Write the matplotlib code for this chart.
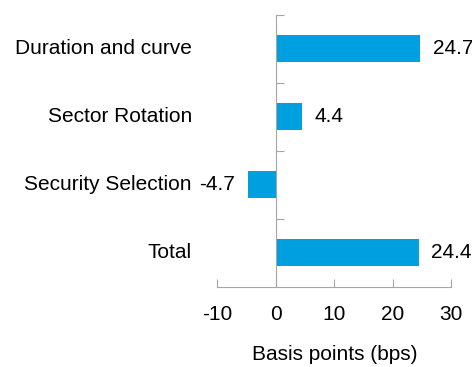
import matplotlib.pyplot as plt
import matplotlib.transforms as mtransforms

plt.rcParams['font.family'] = ['Liberation Sans', 'DejaVu Sans']

categories = ['Duration and curve', 'Sector Rotation', 'Security Selection', 'Total']
values = [24.7, 4.4, -4.7, 24.4]
xticks = [-10, 0, 10, 20, 30]

bar_color = '#00A0E0'
axis_color = '#A6A6A6'
fs = 15

fig = plt.figure(figsize=(4.72, 3.67), dpi=100)
ax = fig.add_axes([0.4608, 0.2188, 0.4953, 0.7411])

n = len(categories)
ypos = [n - 1 - i for i in range(n)]          # first category on top
ax.barh(ypos, values, height=0.4, color=bar_color)

ax.set_xlim(-10, 30)
ax.set_ylim(-0.5, n - 0.5)
ax.set_xticks(xticks)
ax.set_xticklabels([str(t) for t in xticks], fontsize=fs)
ax.set_yticks([k + 0.5 for k in range(n)])
ax.set_yticklabels([])

for s in ['top', 'right']:
    ax.spines[s].set_visible(False)
ax.spines['left'].set_position(('data', 0))
ax.spines['left'].set_color(axis_color)
ax.spines['bottom'].set_color(axis_color)
ax.tick_params(axis='x', direction='in', length=6, color=axis_color, pad=13)
ax.tick_params(axis='y', direction='in', length=6, color=axis_color)

# category labels sit left of the plot area
trans = mtransforms.blended_transform_factory(ax.transAxes, ax.transData)
for y, name in zip(ypos, categories):
    ax.text(-0.11, y, name, transform=trans, ha='right', va='center', fontsize=fs)

# value labels
for y, v in zip(ypos, values):
    if v >= 0:
        ax.annotate(f'{v:.1f}', (v, y), xytext=(9, 0), textcoords='offset points',
                    ha='left', va='center', fontsize=fs)
    else:
        ax.annotate(f'{v:.1f}', (v, y), xytext=(-10, 0), textcoords='offset points',
                    ha='right', va='center', fontsize=fs)

ax.set_xlabel('Basis points (bps)', fontsize=fs, labelpad=15)

fig.savefig('out.png', dpi=100)
